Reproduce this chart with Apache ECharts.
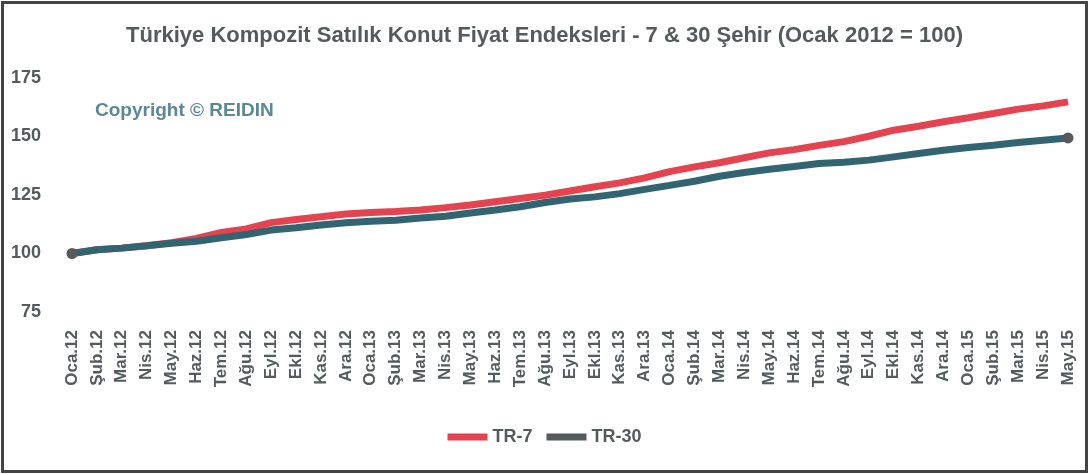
<!DOCTYPE html>
<html>
<head>
<meta charset="utf-8">
<script src="https://cdn.jsdelivr.net/npm/echarts@6/dist/echarts.min.js"></script>
<style>
  html, body { margin: 0; padding: 0; background: #fff; }
  #chart { width: 1089px; height: 474px; }
</style>
</head>
<body>
<div id="chart"></div>
<script>
const months = [
  'Oca.12', 'Şub.12', 'Mar.12', 'Nis.12', 'May.12', 'Haz.12', 'Tem.12', 'Ağu.12', 'Eyl.12', 'Ekl.12', 'Kas.12', 'Ara.12',
  'Oca.13', 'Şub.13', 'Mar.13', 'Nis.13', 'May.13', 'Haz.13', 'Tem.13', 'Ağu.13', 'Eyl.13', 'Ekl.13', 'Kas.13', 'Ara.13',
  'Oca.14', 'Şub.14', 'Mar.14', 'Nis.14', 'May.14', 'Haz.14', 'Tem.14', 'Ağu.14', 'Eyl.14', 'Ekl.14', 'Kas.14', 'Ara.14',
  'Oca.15', 'Şub.15', 'Mar.15', 'Nis.15', 'May.15'
]
const tr7 = [
  100, 101.6, 102.3, 103.3, 104.6, 106.4, 109.0, 110.5, 113.2, 114.5, 115.7, 116.9,
  117.5, 117.9, 118.6, 119.6, 120.7, 122.1, 123.5, 124.9, 126.7, 128.5, 130.2, 132.3,
  135.0, 137.0, 138.8, 140.9, 143.0, 144.4, 146.2, 147.8, 150.1, 152.7, 154.4, 156.3,
  158.0, 159.8, 161.7, 163.1, 164.8
]
const tr30 = [
  100, 101.6, 102.3, 103.3, 104.4, 105.2, 106.7, 108.1, 110.0, 111.0, 112.2, 113.1,
  113.8, 114.2, 115.2, 115.9, 117.3, 118.6, 120.0, 121.8, 123.3, 124.2, 125.6, 127.4,
  129.1, 130.9, 133.0, 134.6, 136.0, 137.2, 138.5, 139.0, 139.9, 141.3, 142.7, 144.1,
  145.3, 146.3, 147.4, 148.4, 149.4
]

const grey = '#555a5c'
const red = '#e4444f'
const teal = '#336472'
const font = '"Liberation Sans Narrow", "Liberation Sans", sans-serif'

const chart = echarts.init(document.getElementById('chart'))
const endMarker = (v, p) => (p.dataIndex === 0 || p.dataIndex === months.length - 1) ? 11 : 0

chart.setOption({
  animation: false,
  title: {
    text: 'Türkiye Kompozit Satılık Konut Fiyat Endeksleri - 7 & 30 Şehir (Ocak 2012 = 100)',
    left: 'center',
    top: 20,
    textStyle: { fontFamily: font, fontWeight: 'bold', fontSize: 22, color: grey }
  },
  legend: {
    bottom: 23,
    left: 'center',
    icon: 'rect',
    itemWidth: 40,
    itemHeight: 7,
    itemGap: 14,
    textStyle: { fontFamily: font, fontWeight: 'bold', fontSize: 18, color: grey },
    data: [
      { name: 'TR-7', itemStyle: { color: red } },
      { name: 'TR-30', itemStyle: { color: grey } }
    ]
  },
  grid: { left: 72, right: 21, top: 78, bottom: 162 },
  xAxis: {
    type: 'category',
    data: months,
    boundaryGap: false,
    axisLine: { show: false },
    axisTick: { show: false },
    axisLabel: {
      rotate: 90,
      interval: 0,
      margin: 18,
      fontFamily: font,
      fontWeight: 'bold',
      fontSize: 17,
      color: grey
    }
  },
  yAxis: {
    type: 'value',
    min: 75,
    max: 175,
    interval: 25,
    splitLine: { show: false },
    axisLine: { show: false },
    axisLabel: { margin: 31, fontFamily: font, fontWeight: 'bold', fontSize: 18, color: grey }
  },
  graphic: [
    {
      type: 'rect',
      shape: { x: 2.5, y: 2.5, width: 1084, height: 469 },
      style: { fill: 'none', stroke: '#444', lineWidth: 3 }
    },
    {
      type: 'text',
      left: 95,
      top: 101,
      style: { text: 'Copyright © REIDIN', fill: '#5b8893', font: 'bold 19px ' + font }
    }
  ],
  series: [
    {
      name: 'TR-7',
      type: 'line',
      data: tr7,
      symbol: 'circle',
      symbolSize: 0,
      lineStyle: { color: red, width: 7 },
      itemStyle: { color: red }
    },
    {
      name: 'TR-30',
      type: 'line',
      data: tr30,
      symbol: 'circle',
      symbolSize: endMarker,
      lineStyle: { color: teal, width: 7 },
      itemStyle: { color: grey }
    }
  ]
})
</script>
</body>
</html>
